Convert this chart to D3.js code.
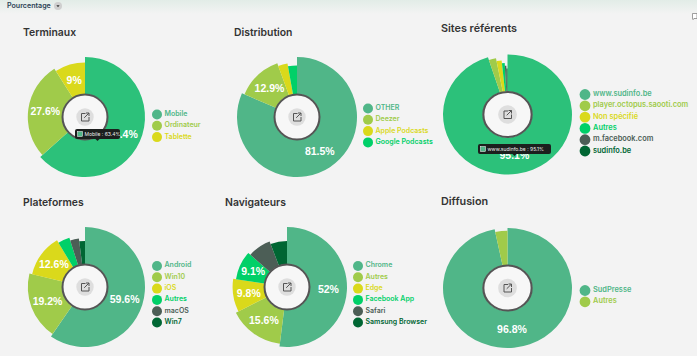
<!DOCTYPE html>
<html>
<head>
<meta charset="utf-8">
<script src="https://cdn.jsdelivr.net/npm/d3@7"></script>
<style>
  html, body { margin: 0; padding: 0; background: #f3f3f3; overflow: hidden; }
  text { font-family: "Inter", "Liberation Sans", sans-serif; }
</style>
</head>
<body>
<svg id="chart" width="697" height="356"></svg>
<script>
// Values (percent)
var terminauxLabels = ["Mobile", "Ordinateur", "Tablette"];
var terminauxValues = [63.4, 27.6, 9];
var distributionLabels = ["OTHER", "Deezer", "Apple Podcasts", "Google Podcasts"];
var distributionValues = [81.5, 12.9, 2.8, 2.8];
var sitesLabels = ["www.sudinfo.be", "player.octopus.saooti.com", "Non spécifié", "Autres", "m.facebook.com", "sudinfo.be"];
var sitesValues = [95.1, 1.9, 1.4, 0.8, 0.45, 0.35];
var plateformesLabels = ["Android", "Win10", "iOS", "Autres", "macOS", "Win7"];
var plateformesValues = [59.6, 19.2, 12.6, 3.7, 2.9, 2.0];
var navigateursLabels = ["Chrome", "Autres", "Edge", "Facebook App", "Safari", "Samsung Browser"];
var navigateursValues = [52, 15.6, 9.8, 9.1, 7.7, 5.8];
var diffusionLabels = ["SudPresse", "Autres"];
var diffusionValues = [96.8, 3.2];

var colors = ["#50b688", "#a0cb4a", "#dad91b", "#00d068", "#4c5e56", "#006633"];
var hoverColor = "#2cc17a";

var svg = d3.select("#chart");

// Pale band at the top of the page
var defs = svg.append("defs");
var grad = defs.append("linearGradient").attr("id", "topBand")
    .attr("x1", 0).attr("x2", 0).attr("y1", 0).attr("y2", 1);
grad.append("stop").attr("offset", "0%").attr("stop-color", "#e2ece7");
grad.append("stop").attr("offset", "100%").attr("stop-color", "#f3f3f3");
svg.append("rect").attr("width", 697).attr("height", 14).attr("fill", "url(#topBand)");

svg.append("text").attr("x", 7).attr("y", 8)
    .attr("font-size", 7.1).attr("font-weight", 600).attr("fill", "#2b3f55")
    .text("Pourcentage");
svg.append("circle").attr("cx", 58).attr("cy", 6).attr("r", 4).attr("fill", "#cfcfcf");
svg.append("path").attr("d", "M56.4,5.2h3.2l-1.6,2z").attr("fill", "#333");

// Small comment icon at the top right
svg.append("path")
    .attr("d", "M692.5,13.5h4.5v5h-3l-1,1.2v-1.2h-0.5z")
    .attr("fill", "#fff").attr("stroke", "#777").attr("stroke-width", 0.7);

// One donut with its title, legend and button. Every slice is shorter than the one before.
function drawDonut(opt) {
    var pie = d3.pie().sort(null).value(function(d) { return d; })(opt.values);
    var outerR = d3.scaleLinear().domain([0, 5]).range([60, 46]);
    var arc = d3.arc().innerRadius(23);

    var sx = opt.stretch || 1;
    var g = svg.append("g").attr("transform", "translate(" + opt.cx + "," + opt.cy + ")");
    var shapes = g.append("g").attr("transform", "scale(" + sx + ",1)");

    shapes.selectAll("path").data(pie).enter().append("path")
        .attr("d", function(d, i) { return arc.outerRadius(outerR(i))(d); })
        .attr("fill", function(d, i) { return (i === 0 && opt.hovered) ? hoverColor : colors[i]; });

    g.selectAll("text.pct").data(pie).enter()
        .filter(function(d) { return opt.shown.indexOf(d.index) >= 0; })
        .append("text").attr("class", "pct")
        .attr("transform", function(d) {
            var c = arc.outerRadius(outerR(d.index)).centroid(d);
            return "translate(" + (c[0] * sx) + "," + c[1] + ")";
        })
        .attr("text-anchor", "middle").attr("dy", "0.36em")
        .attr("font-size", 10.5).attr("font-weight", 700).attr("fill", "#fff")
        .style("font-family", "'Liberation Sans', sans-serif")
        .text(function(d) { return d.value + "%"; });

    // Centre hole and button
    shapes.append("circle").attr("r", 22.5).attr("fill", "#f7f7f7").attr("stroke", "#555").attr("stroke-width", 2);
    g.append("circle").attr("r", 8.7 * sx).attr("fill", "#dedede");
    g.append("path")
        .attr("d", "M0.5,-3.5h-4v7.5h7.5v-4M-0.8,0.8L4,-4M1,-4h3v3")
        .attr("fill", "none").attr("stroke", "#555").attr("stroke-width", 1);

    // Title
    svg.append("text").attr("x", opt.titleX).attr("y", opt.titleY)
        .attr("font-size", sx > 1 ? 10.8 : 10.4).attr("font-weight", 600).attr("fill", "#333")
        .text(opt.title);

    // Legend
    var legend = svg.append("g").attr("transform", "translate(" + opt.legendX + "," + opt.legendY + ")");
    var y = d3.scaleLinear().domain([0, 1]).range([0, 11.3]);
    legend.selectAll("circle").data(opt.labels).enter().append("circle")
        .attr("cy", function(d, i) { return y(i); })
        .attr("r", 5 * (sx > 1 ? 1.08 : 1))
        .attr("fill", function(d, i) { return colors[i]; });
    legend.selectAll("text").data(opt.labels).enter().append("text")
        .attr("x", sx > 1 ? 8 : 7.5)
        .attr("y", function(d, i) { return y(i) - 1; })
        .attr("dy", "0.35em")
        .attr("font-size", sx > 1 ? 7.4 : 7).attr("font-weight", 600)
        .attr("fill", function(d, i) { return colors[i]; })
        .text(function(d) { return d; });

    // Tooltip of the hovered slice
    if (opt.hovered) {
        var t = svg.append("g").attr("transform", "translate(" + opt.tipX + "," + opt.tipY + ")");
        t.append("rect").attr("width", opt.tipW).attr("height", 10).attr("rx", 2).attr("fill", "#1c1f1e");
        t.append("path").attr("d", "M" + (opt.tipW / 2 - 2) + ",10h4l-2,2z").attr("fill", "#1c1f1e");
        t.append("rect").attr("x", 2.5).attr("y", 2.5).attr("width", 5).attr("height", 5)
            .attr("fill", colors[0]).attr("stroke", "#fff").attr("stroke-width", 0.5);
        t.append("text").attr("x", 9.5).attr("y", 5).attr("dy", "0.35em")
            .attr("font-size", 5).attr("fill", "#eee")
            .text(opt.labels[0] + " : " + opt.values[0] + "%");
    }
}

drawDonut({ title: "Terminaux", titleX: 23, titleY: 36, cx: 85, cy: 117, labels: terminauxLabels, values: terminauxValues,
    shown: [0, 1, 2], hovered: true, tipX: 75, tipY: 129, tipW: 45, legendX: 157, legendY: 114.5 });
drawDonut({ title: "Distribution", titleX: 234, titleY: 36, cx: 297, cy: 117, labels: distributionLabels, values: distributionValues,
    shown: [0, 1], legendX: 368, legendY: 108.5 });
drawDonut({ title: "Sites référents", titleX: 441, titleY: 32, cx: 507.5, cy: 114.5, stretch: 1.075, labels: sitesLabels, values: sitesValues,
    shown: [0], hovered: true, tipX: 478, tipY: 144, tipW: 73, legendX: 585, legendY: 94.5 });
drawDonut({ title: "Plateformes", titleX: 23, titleY: 206, cx: 85, cy: 287, labels: plateformesLabels, values: plateformesValues,
    shown: [0, 1, 2], legendX: 157, legendY: 266 });
drawDonut({ title: "Navigateurs", titleX: 225, titleY: 206, cx: 287, cy: 287, labels: navigateursLabels, values: navigateursValues,
    shown: [0, 1, 2, 3], legendX: 358, legendY: 266 });
drawDonut({ title: "Diffusion", titleX: 441, titleY: 205, cx: 507.5, cy: 288, stretch: 1.075, labels: diffusionLabels, values: diffusionValues,
    shown: [0], legendX: 585, legendY: 290.5 });
</script>
</body>
</html>
